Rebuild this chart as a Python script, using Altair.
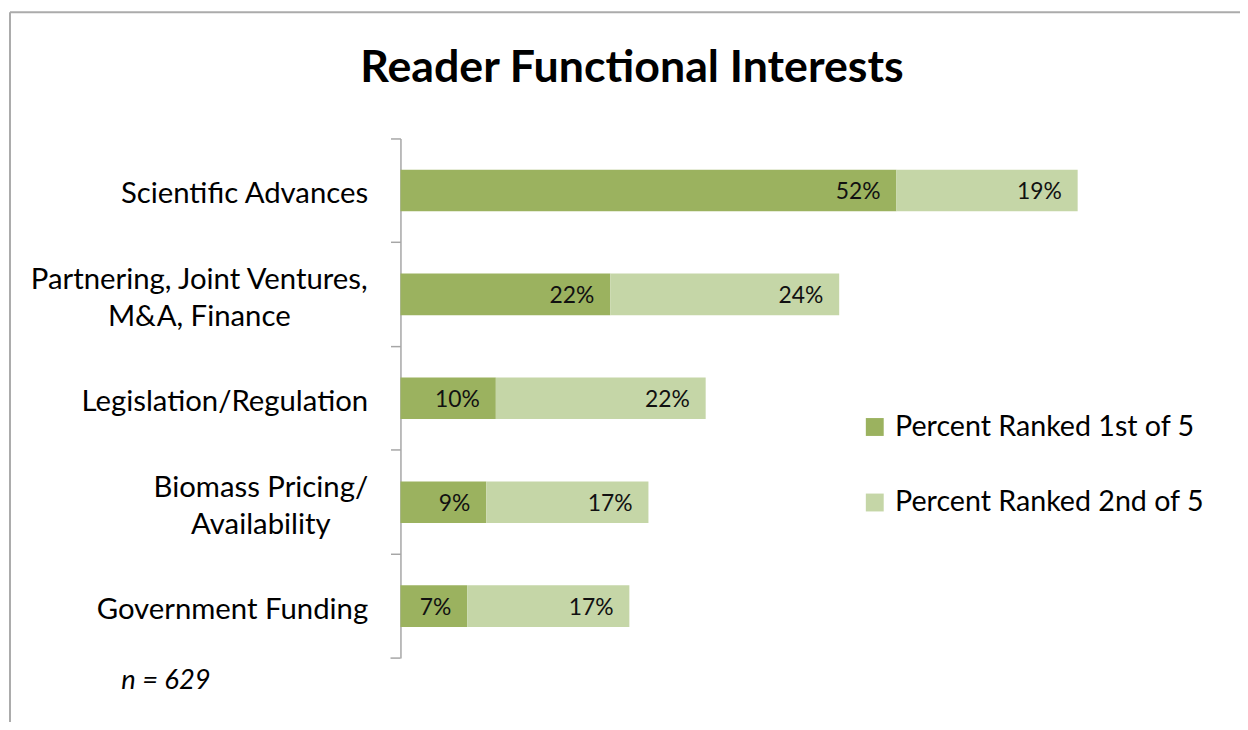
import altair as alt
import pandas as pd

categories = [
    "Scientific Advances",
    "Partnering, Joint Ventures,|M&A, Finance",
    "Legislation/Regulation",
    "Biomass Pricing/|Availability",
    "Government Funding",
]
series = ["Percent Ranked 1st of 5", "Percent Ranked 2nd of 5"]
first_pct = [52, 22, 10, 9, 7]
second_pct = [19, 24, 22, 17, 17]
colors = ["#9BB25F", "#C5D6A7"]
note = "n = 629"
title = "Reader Functional Interests"

rows = []
for c, a, b in zip(categories, first_pct, second_pct):
    rows.append({"cat": c, "series": series[0], "value": a, "start": 0, "end": a})
    rows.append({"cat": c, "series": series[1], "value": b, "start": a, "end": a + b})
df = pd.DataFrame(rows)
df["label"] = df["value"].astype(str) + "%"

W, H = 768, 523
FONT = "Lato"

multi = "indexof(datum.label, '|') >= 0"
y_enc = alt.Y(
    "cat:N",
    sort=categories,
    scale=alt.Scale(paddingInner=0, paddingOuter=0),
    axis=alt.Axis(
        title=None,
        bandPosition=0,
        domainColor="#A6A6A6",
        domainWidth=1.5,
        tickColor="#A6A6A6",
        tickWidth=1.5,
        tickSize=10,
        labelFont=FONT,
        labelFontSize=29.5,
        labelColor="#000000",
        labelLineHeight=37,
        labelLimit=0,
        labelExpr="split(datum.label, '|')",
        labelAlign={"condition": {"test": multi, "value": "center"}, "value": "right"},
        labelPadding={
            "condition": [
                {"test": "indexof(datum.label, 'Partnering') >= 0", "value": 193},
                {"test": "indexof(datum.label, 'Biomass') >= 0", "value": 131},
            ],
            "value": 23,
        },
        labelOffset={"condition": {"test": multi, "value": -14}, "value": 4},
        grid=False,
    ),
)
x_scale = alt.Scale(domain=[0, 80], nice=False, zero=True)

base = alt.Chart(df)

bars = base.mark_bar(height={"band": 0.4}).encode(
    y=y_enc,
    x=alt.X("start:Q", scale=x_scale, axis=None),
    x2="end:Q",
    color=alt.Color(
        "series:N",
        scale=alt.Scale(domain=series, range=colors),
        legend=alt.Legend(
            title=None,
            orient="none",
            legendX=463,
            legendY=276,
            symbolType="square",
            symbolSize=324,
            symbolStrokeWidth=0,
            symbolOpacity=1,
            labelFont=FONT,
            labelFontSize=28.8,
            labelColor="#000000",
            labelOffset=6,
            labelLimit=0,
            rowPadding=46,
            padding=0,
        ),
    ),
)

labels = base.mark_text(
    align="right", baseline="middle", dx=-16, dy=2, font=FONT, fontSize=23, color="#111111"
).encode(
    y=alt.Y("cat:N", sort=categories),
    x=alt.X("end:Q", scale=x_scale),
    text="label:N",
)

frame = alt.Chart(alt.Data(values=[{"k": 1}]))
bottom_tick = frame.mark_rule(color="#A6A6A6", strokeWidth=1.5).encode(
    x=alt.value(-10), x2=alt.value(0), y=alt.value(H)
)
border_left = frame.mark_rule(color="#ABABAB", strokeWidth=2).encode(
    x=alt.value(-393), y=alt.value(-127), y2=alt.value(600)
)
border_top = frame.mark_rule(color="#ABABAB", strokeWidth=2).encode(
    x=alt.value(-393), x2=alt.value(900), y=alt.value(-127)
)
n_text = frame.mark_text(
    align="left", baseline="middle", font=FONT, fontSize=27.5, fontStyle="italic", color="#000000"
).encode(x=alt.value(-281), y=alt.value(546), text=alt.value(note))
title_text = frame.mark_text(
    align="center", baseline="alphabetic", font=FONT, fontSize=45, fontWeight="bold", color="#000000"
).encode(x=alt.value(233), y=alt.value(-57), text=alt.value(title))

chart = alt.layer(
    bars, labels, bottom_tick, border_left, border_top, n_text, title_text
).properties(
    width=W,
    height=H,
    autosize=alt.AutoSizeParams(type="none"),
    padding={"left": 395, "top": 129, "right": 77, "bottom": 62},
).configure_view(stroke=None)

chart.save("out.html", embed_options={"renderer": "svg", "actions": False})
